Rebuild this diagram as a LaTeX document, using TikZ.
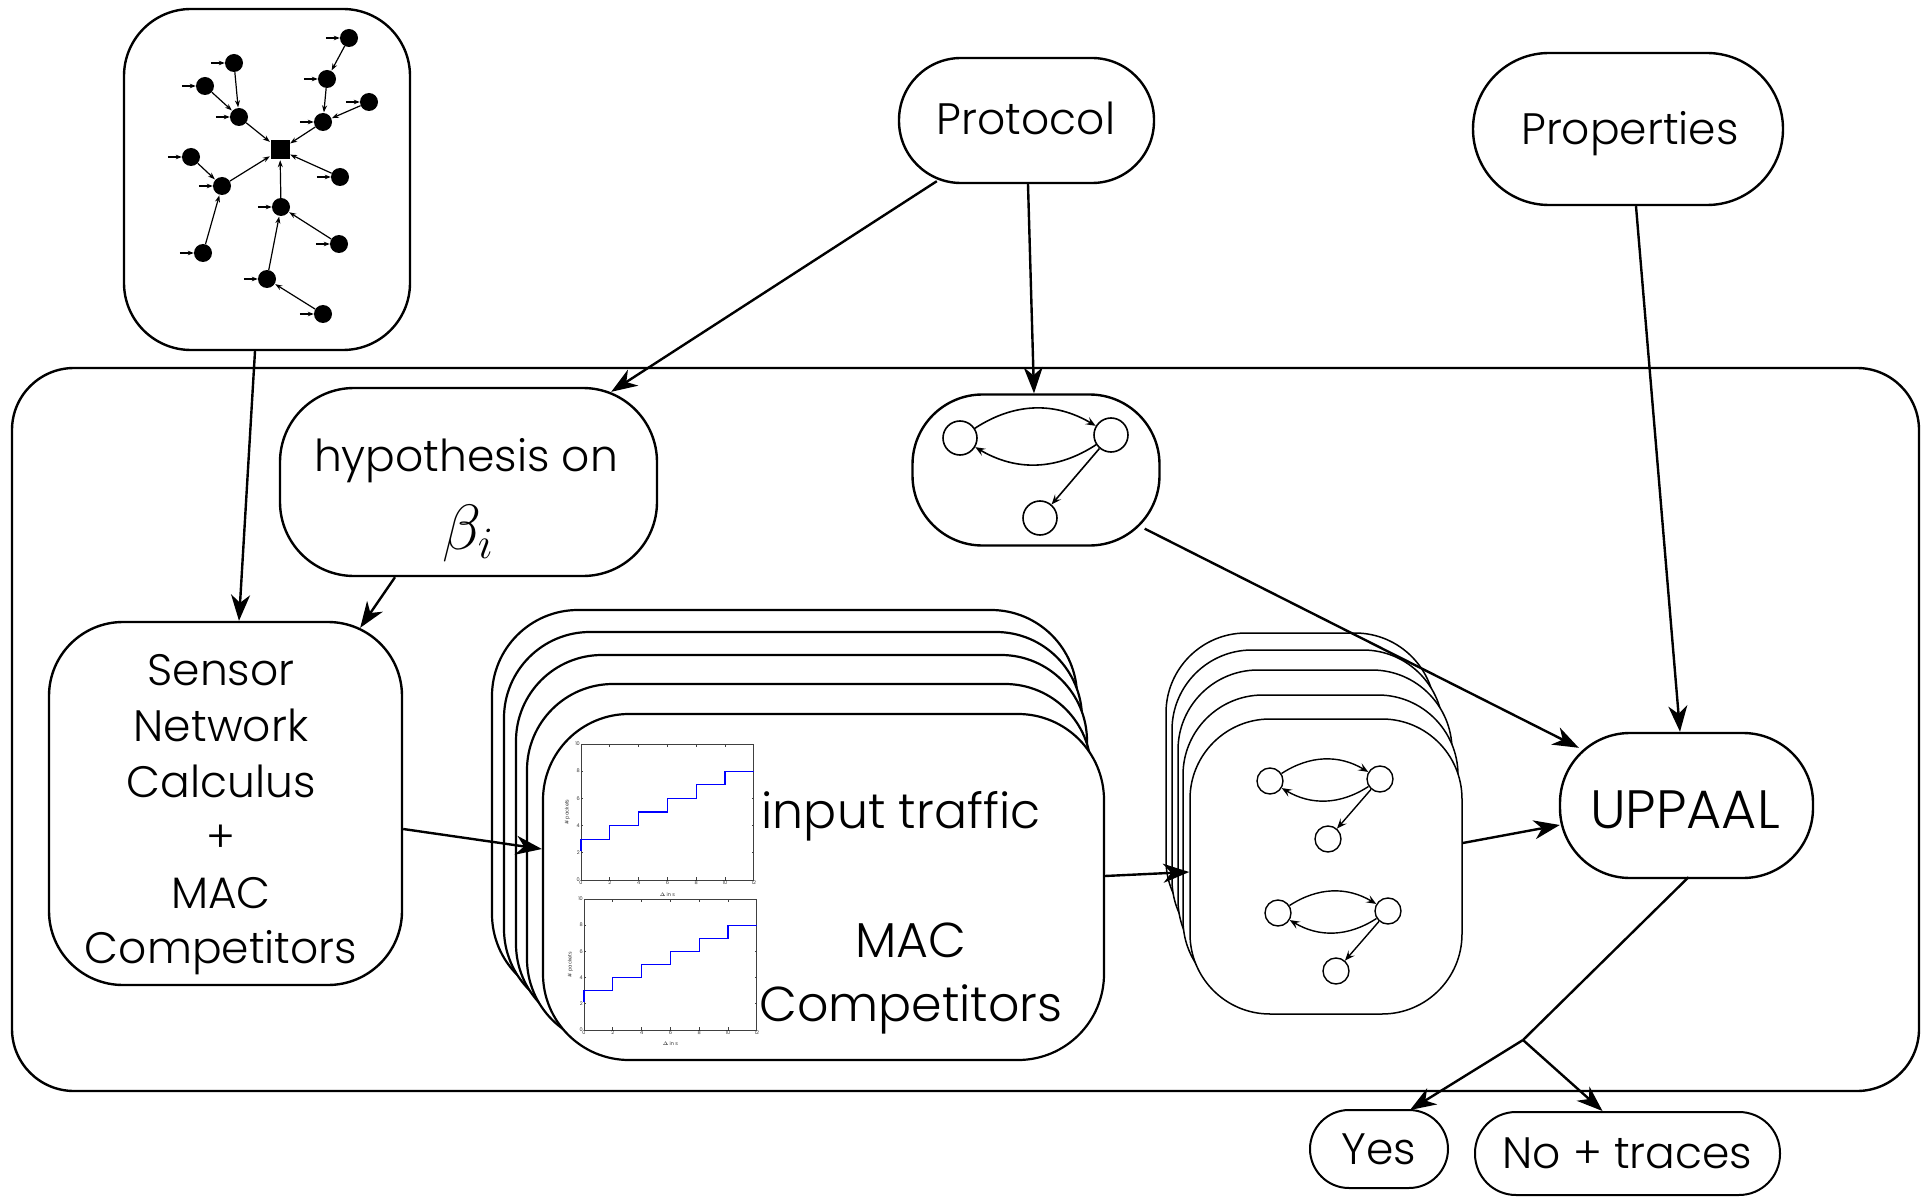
\RequirePackage{fix-cm}
\documentclass[tikz,border=0pt]{standalone}
\usepackage{fontspec}
\setmainfont{Poppins}[UprightFont=* Light]
\usetikzlibrary{arrows.meta,calc}

\newcommand\bigtxt{\fontsize{44}{55.6}\selectfont}
\newcommand\plottxt{\fontsize{5}{6}\selectfont}

% one small step plot of the input traffic: #1 name prefix, #2/#3 lower left corner, #4 y unit
\newcommand\trafficplot[4]{%
  \begin{scope}[shift={(#2pt,-#3pt)}, x=14.4pt, y=#4pt]
    \draw[plotaxis] (0,0) rectangle (12,10);
    \foreach \k in {0,2,...,12} {
      \draw[plotaxis] (\k,0) -- (\k,0.22);
      \draw[plotaxis] (\k,10) -- (\k,9.78);
      \node[ticklab, below] (#1x\k) at (\k,0) {\k};
    }
    \foreach \k in {0,2,...,10} {
      \draw[plotaxis] (0,\k) -- (0.16,\k);
      \draw[plotaxis] (12,\k) -- (11.84,\k);
      \node[ticklab, left] (#1y\k) at (0,\k) {\k};
    }
    \node[ticklab, rotate=90] (#1ylab) at (-0.95,5) {\# packets};
    \node[ticklab] (#1xlab) at (6,-1.05) {$\Delta$ in s};
    \draw[stair] (0,2.1) -- (0,3) -- (2,3) -- (2,4) -- (4,4) -- (4,5) -- (6,5) -- (6,6)
      -- (8,6) -- (8,7) -- (10,7) -- (10,8) -- (12,8);
  \end{scope}}

\tikzset{
  box/.style={draw, line width=2.4pt, fill=white, rectangle, inner sep=0pt,
    align=center, font=\bigtxt},
  stackbox/.style={draw, line width=2.2pt, fill=white},
  thinbox/.style={draw, line width=1.5pt, fill=white},
  conn/.style={line width=2.4pt, -{Stealth[length=26pt,width=19pt,inset=8pt]}},
  plain/.style={line width=2.4pt},
  tnode/.style={circle, fill=black, inner sep=0pt, minimum size=18pt},
  troot/.style={rectangle, fill=black, inner sep=0pt, minimum size=19pt},
  tedge/.style={line width=1.2pt, -{Stealth[length=7pt,width=5pt]}, shorten >=0.5pt},
  tstub/.style={line width=1.2pt, -{Stealth[length=6pt,width=4.5pt]}},
  anode/.style={circle, draw, line width=1.6pt, fill=white, inner sep=0pt},
  aedge/.style={line width=1.6pt, -{Stealth[length=10pt,width=8pt,inset=4pt]}},
  plotaxis/.style={line width=1pt, black!75},
  ticklab/.style={font=\plottxt, inner sep=1pt},
  stair/.style={line width=1.3pt, blue},
  txt/.style={inner sep=0pt, align=center, font=\bigtxt},
}

\begin{document}
\begin{tikzpicture}[x=1pt, y=-1pt]
\useasboundingbox (0,0) rectangle (1923,1198);

% framing box of the analysis chain
\node[box, minimum width=1907pt, minimum height=723pt, rounded corners=62pt] (cont) at (965.5,729.5) {};

% sensor network topology
\node[box, minimum width=286pt, minimum height=341pt, rounded corners=67pt] (tree) at (267,179.5) {};
\node[troot] (tr) at (280,150) {};
\foreach \n/\x/\y in {1/349/38, 2/327/79, 3/369/102, 4/323/122, 5/234/63, 6/205/86,
    7/239/117, 8/191/157, 9/222/186, 10/340/177, 11/281/207, 12/339/244,
    13/203/253, 14/267/279, 15/323/314}
  \node[tnode] (t\n) at (\x,\y) {};
\foreach \a/\b in {1/2, 2/4, 3/4, 4/r, 5/7, 6/7, 7/r, 8/9, 13/9, 9/r, 10/r, 11/r,
    12/11, 14/11, 15/14}
  \draw[tedge] (t\a) -- (t\b);
\foreach \n in {1,...,15}
  \draw[tstub] ($(t\n.west)+(-14,0)$) -- (t\n.west);

% inputs
\node[box, minimum width=255pt, minimum height=125pt, rounded corners=62pt] (proto) at (1026.5,120.5) {};
\node[txt] (prototxt) at (1026,118) {Protocol};
\node[box, minimum width=310pt, minimum height=152pt, rounded corners=76pt] (props) at (1628,129) {};
\node[txt] (propstxt) at (1630,134) {Properties};

% hypothesis on the service curves
\node[box, minimum width=377pt, minimum height=188pt, rounded corners=74pt] (hyp) at (468.5,482) {};
\node[txt] (hyptxt) at (466,461) {hypothesis on};
\node[txt, font=\fontsize{64}{64}\selectfont] (hypbeta) at (468,533) {$\beta_i$};

% protocol automaton
\node[box, minimum width=247pt, minimum height=151pt, rounded corners=70pt] (pauto) at (1036,470) {};
\node[anode, minimum size=34pt] (pa) at (960,438) {};
\node[anode, minimum size=34pt] (pb) at (1111,435) {};
\node[anode, minimum size=34pt] (pc) at (1040,518) {};
\draw[aedge] (pa) to[bend left=32] (pb);
\draw[aedge] (pb) to[bend left=32] (pa);
\draw[aedge] (pb) -- (pc);

% sensor network calculus
\node[box, minimum width=353pt, minimum height=363pt, rounded corners=74pt] (sensor) at (225.5,803.5) {};
\node[txt] (sensortxt) at (221,815) {Sensor\\Network\\Calculus\\+\\MAC\\Competitors};

% stack of per-node traffic descriptions
\draw[stackbox, rounded corners=86pt] (492,610) rectangle (1077,1000);
\draw[stackbox, rounded corners=86pt] (504,632) rectangle (1082,1015);
\draw[stackbox, rounded corners=86pt] (516,655) rectangle (1087,1030);
\draw[stackbox, rounded corners=86pt] (527,684) rectangle (1091,1045);
\node[box, line width=2.2pt, minimum width=561pt, minimum height=346pt, rounded corners=86pt] (mac) at (823.5,887) {};
\trafficplot{pa}{581}{880}{13.6}
\trafficplot{pb}{584}{1030}{13.1}
\node[txt, font=\fontsize{49}{64}\selectfont] (mactxt1) at (901,816) {input traffic};
\node[txt, font=\fontsize{49}{64}\selectfont] (mactxt2) at (911,978) {MAC\\Competitors};

% stack of generated automata
\draw[thinbox, rounded corners=80pt] (1166,633) rectangle (1435,940);
\draw[thinbox, rounded corners=80pt] (1172,650) rectangle (1443,960);
\draw[thinbox, rounded corners=80pt] (1178,670) rectangle (1452,980);
\draw[thinbox, rounded corners=80pt] (1183,695) rectangle (1458,1000);
\node[box, line width=1.5pt, minimum width=272pt, minimum height=295pt, rounded corners=80pt] (autos) at (1326,866.5) {};
\foreach \p/\dx/\dy in {u/0/0, v/8/132} {
  \node[anode, line width=1.4pt, minimum size=26pt] (\p a) at (1270+\dx,781+\dy) {};
  \node[anode, line width=1.4pt, minimum size=26pt] (\p b) at (1380+\dx,779+\dy) {};
  \node[anode, line width=1.4pt, minimum size=26pt] (\p c) at (1328+\dx,839+\dy) {};
  \draw[aedge, line width=1.4pt] (\p a) to[bend left=32] (\p b);
  \draw[aedge, line width=1.4pt] (\p b) to[bend left=32] (\p a);
  \draw[aedge, line width=1.4pt] (\p b) -- (\p c);
}

% model checker and verdicts
\node[box, minimum width=253pt, minimum height=145pt, rounded corners=70pt] (uppaal) at (1686.5,805.5) {};
\node[txt, font=\fontsize{54}{60}\selectfont] (uppaaltxt) at (1685,810) {UPPAAL};
\node[box, line width=2pt, minimum width=138pt, minimum height=78pt, rounded corners=39pt] (yes) at (1379,1149) {Yes};
\node[box, line width=2pt, minimum width=305pt, minimum height=83pt, rounded corners=41pt] (notr) at (1627.5,1153.5) {No + traces};

% data flow
\draw[conn] ($(tree.south)+(-12,0)$) -- ($(sensor.north)+(13.5,0)$);
\draw[conn] ($(proto.south west)+(39,-3)$) -- ($(hyp.north east)+(-47,5)$);
\draw[conn] ($(proto.south)+(1.5,0)$) -- ($(pauto.north)+(-2,0)$);
\draw[conn] ($(props.south)+(8,0)$) -- ($(uppaal.north)+(-6.5,0)$);
\draw[conn] ($(hyp.south)+(-73.5,0)$) -- ($(sensor.north east)+(-43,7)$);
\draw[conn] ($(sensor.east)+(0,25.5)$) -- ($(mac.west)+(0,-38)$);
\draw[conn] ($(mac.east)+(0,-11)$) -- ($(autos.west)+(0,5.5)$);
\draw[conn] ($(pauto.south east)+(-16,-18)$) -- ($(uppaal.north west)+(20,16)$);
\draw[conn] ($(autos.east)+(0,-23.5)$) -- ($(uppaal.west)+(1,19.5)$);
\coordinate (br) at (1523,1040);
\draw[plain] ($(uppaal.south)+(2,-2)$) -- (br);
\draw[conn] (br) -- ($(yes.north)+(31,1)$);
\draw[conn] (br) -- ($(notr.north)+(-25,0)$);
\end{tikzpicture}
\end{document}
